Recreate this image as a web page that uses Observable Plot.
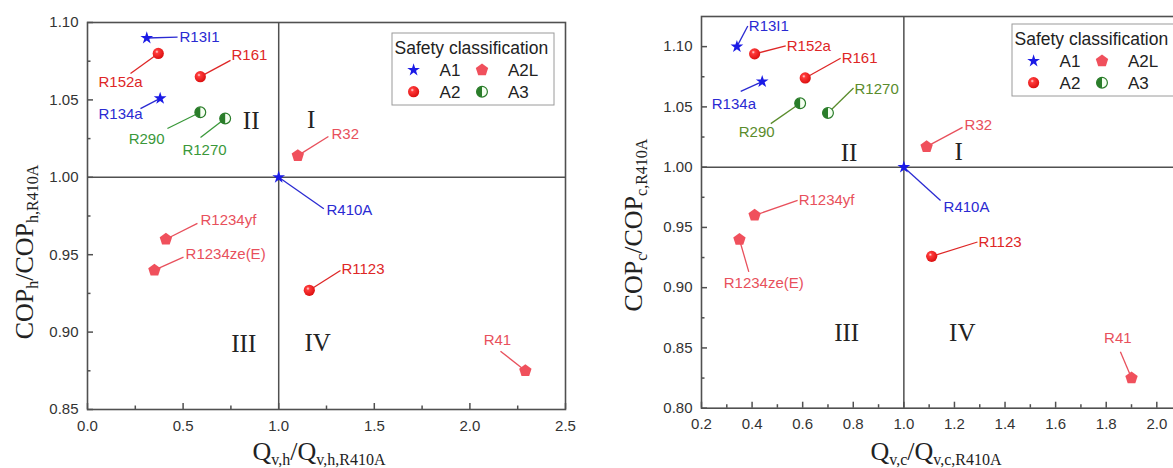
<!DOCTYPE html>
<html><head><meta charset="utf-8">
<script src="https://cdn.jsdelivr.net/npm/d3@7"></script>
<script src="https://cdn.jsdelivr.net/npm/@observablehq/plot@0.6"></script>
<style>
html,body{margin:0;padding:0;background:#fff;}
#wrap{position:relative;width:1173px;height:468px;overflow:hidden;background:#fff;}
#wrap svg{position:absolute;top:0;}
</style></head><body><div id="wrap"></div>
<script>
// ---------------- data ----------------
const refrigerants = ["R13I1","R152a","R161","R134a","R290","R1270","R410A","R32","R1234yf","R1234ze(E)","R1123","R41"];
const safetyClass  = ["A1","A2","A2","A1","A3","A3","A1","A2L","A2L","A2L","A2","A2L"];
// heating
const heatQ   = [0.31, 0.37, 0.59, 0.38, 0.59, 0.72, 1.00, 1.10, 0.41, 0.35, 1.16, 2.29];
const heatCOP = [1.090,1.080,1.065,1.051,1.042,1.038,1.000,1.014,0.960,0.940,0.927,0.875];
// cooling
const coolQ   = [0.34, 0.41, 0.61, 0.44, 0.59, 0.70, 1.00, 1.09, 0.41, 0.35, 1.11, 1.90];
const coolCOP = [1.100,1.094,1.074,1.071,1.053,1.045,1.000,1.017,0.960,0.940,0.926,0.825];

// tick values
const heatXTicks = [0.0,0.5,1.0,1.5,2.0,2.5];
const heatXMinor = [0.25,0.75,1.25,1.75,2.25];
const heatYTicks = [0.85,0.90,0.95,1.00,1.05,1.10];
const heatYMinor = [0.875,0.925,0.975,1.025,1.075];
const coolXTicks = [0.2,0.4,0.6,0.8,1.0,1.2,1.4,1.6,1.8,2.0];
const coolXMinor = [0.3,0.5,0.7,0.9,1.1,1.3,1.5,1.7,1.9];
const coolYTicks = [0.80,0.85,0.90,0.95,1.00,1.05,1.10];
const coolYMinor = [0.825,0.875,0.925,0.975,1.025,1.075];

const quadrantNames = ["I","II","III","IV"];
const legendOrder = ["A1","A2L","A2","A3"];

// annotation placement (data units)
const heatLeaderEnd = [[0.471,1.0905],[0.225,1.067],[0.748,1.0755],[0.277,1.0444],[0.418,1.0315],[0.591,1.0257],[1.236,0.9797],[1.260,1.0264],[0.575,0.9702],[0.502,0.9484],[1.323,0.9398],[2.160,0.8877]];
const heatLabelAt   = [[0.481,1.0905],[0.173,1.0612],[0.753,1.0791],[0.173,1.041],[0.309,1.0249],[0.612,1.0173],[1.25,0.979],[1.276,1.0277],[0.591,0.9721],[0.513,0.9501],[1.328,0.9409],[2.144,0.895]];
const heatAnchor    = ["start","middle","start","middle","middle","middle","start","start","start","start","start","middle"];
const heatQuadAt    = [[1.170,1.0367],[0.856,1.0362],[0.817,0.8924],[1.204,0.8928]];

const coolLeaderEnd = [[0.383,1.1171],[0.533,1.1006],[0.750,1.0904],[0.355,1.0628],[0.474,1.0361],[0.801,1.0656],[1.145,0.9724],[1.232,1.033],[0.580,0.9724],[0.387,0.9131],[1.291,0.9379],[1.856,0.8469]];
const coolLabelAt   = [[0.387,1.1171],[0.537,1.1006],[0.754,1.0907],[0.328,1.0524],[0.418,1.0294],[0.805,1.0648],[1.157,0.9668],[1.240,1.035],[0.584,0.973],[0.446,0.9035],[1.295,0.9379],[1.846,0.858]];
const coolAnchor    = ["start","start","start","middle","middle","start","start","start","start","middle","start","middle"];
const coolQuadAt    = [[1.217,1.0129],[0.783,1.0115],[0.774,0.8621],[1.231,0.8626]];

// ---------------- styles ----------------
const SANS = "'Liberation Sans', Arial, Helvetica, sans-serif";
const SERIF = "'Liberation Serif', 'Times New Roman', Times, serif";
const AXIS = "#505050";
const symbolColor = {A1:"#1a1ae6", A2:"#e81c1c", A2L:"#f0505c", A3:"#2a7d2a"};

const pentagon = {draw(ctx, size){
  const r = Math.sqrt(size/Math.PI);
  for (let i=0;i<5;i++){const a=-Math.PI/2+i*2*Math.PI/5; const x=r*Math.cos(a), y=r*Math.sin(a); if(i) ctx.lineTo(x,y); else ctx.moveTo(x,y);}
  ctx.closePath();
}};
const leftHalf = {draw(ctx, size){
  const r = Math.sqrt(size/Math.PI);
  ctx.moveTo(0,-r); ctx.arc(0,0,r,-Math.PI/2,Math.PI/2,true); ctx.closePath();
}};

function richText(g, x, y, rotate, parts){
  const t = g.append("text")
    .attr("transform", `translate(${x},${y})` + (rotate ? ` rotate(${rotate})` : ""))
    .attr("text-anchor", "middle")
    .attr("font-family", SERIF).attr("fill", "#222").attr("font-size", 26);
  let cur = 0;
  for (const [s, sub] of parts){
    const shift = sub ? 5 : 0;
    t.append("tspan").attr("font-size", sub ? 16 : 26).attr("dy", shift - cur).text(s);
    cur = shift;
  }
}

function makePanel(cfg){
  const rows = refrigerants.map((name,i)=>({
    name, cls: safetyClass[i], x: cfg.q[i], y: cfg.cop[i],
    ex: cfg.leaderEnd[i][0], ey: cfg.leaderEnd[i][1],
    tx: cfg.labelAt[i][0], ty: cfg.labelAt[i][1], anchor: cfg.anchor[i]
  }));
  const quads = quadrantNames.map((q,i)=>({q, x: cfg.quadAt[i][0], y: cfg.quadAt[i][1]}));
  const W = cfg.width, H = 468;
  const pw = W - cfg.ml - cfg.mr, ph = H - cfg.mt - cfg.mb;
  const of = c => rows.filter(d => d.cls === c);
  const lc = cfg.labelColor;
  const svg = Plot.plot({
    width: W, height: H,
    marginLeft: cfg.ml, marginRight: cfg.mr, marginTop: cfg.mt, marginBottom: cfg.mb,
    style: {fontFamily: SANS, background: "transparent", color: "#333", overflow: "visible"},
    x: {domain: cfg.xDomain}, y: {domain: cfg.yDomain},
    marks: [
      Plot.ruleX([1], {stroke: AXIS, strokeWidth: 1.5}),
      Plot.ruleY([1], {stroke: AXIS, strokeWidth: 1.5}),
      Plot.tickX(cfg.xMajor, {x: d=>d, insetTop: ph-6, stroke: AXIS, strokeWidth: 1.5}),
      Plot.tickX(cfg.xMinor, {x: d=>d, insetTop: ph-3.5, stroke: AXIS, strokeWidth: 1.5}),
      Plot.tickY(cfg.yMajor, {y: d=>d, insetRight: pw-6, stroke: AXIS, strokeWidth: 1.5}),
      Plot.tickY(cfg.yMinor, {y: d=>d, insetRight: pw-3.5, stroke: AXIS, strokeWidth: 1.5}),
      Plot.frame({stroke: AXIS, strokeWidth: 1.6}),
      Plot.axisX(cfg.xMajor, {tickSize: 0, tickPadding: 10.5, tickFormat: d3.format(".1f"), fontSize: 15, label: null}),
      Plot.axisY(cfg.yMajor, {tickSize: 0, tickPadding: 9, tickFormat: d3.format(".2f"), fontSize: 15, label: null}),
      Plot.link(rows, {x1: "x", y1: "y", x2: "ex", y2: "ey", stroke: d => lc[d.cls], strokeWidth: 1.3}),
      Plot.dot(of("A1"), {x: "x", y: "y", symbol: "star", r: 4, fill: symbolColor.A1}),
      Plot.dot(of("A2L"), {x: "x", y: "y", symbol: pentagon, r: 6.5, fill: symbolColor.A2L}),
      Plot.dot(of("A2"), {x: "x", y: "y", r: 5.6, fill: `url(#${cfg.id}-ball)`}),
      Plot.dot(of("A3"), {x: "x", y: "y", r: 5.4, fill: "#f4fff0", stroke: symbolColor.A3, strokeWidth: 1.2}),
      Plot.dot(of("A3"), {x: "x", y: "y", symbol: leftHalf, r: 5.4, fill: symbolColor.A3}),
      ...["start","middle"].map(a => Plot.text(rows.filter(d => d.anchor === a), {
        x: "tx", y: "ty", text: "name", textAnchor: a, lineAnchor: "middle",
        fill: d => lc[d.cls], fontSize: 15, fontFamily: SANS})),
      Plot.text(quads, {x: "x", y: "y", text: "q", fontSize: 25, fontFamily: SERIF, fill: "#222", lineAnchor: "middle"})
    ]
  });
  const s = d3.select(svg);
  const defs = s.insert("defs", ":first-child");
  const grad = defs.append("radialGradient").attr("id", `${cfg.id}-ball`).attr("cx","38%").attr("cy","35%").attr("r","70%");
  grad.append("stop").attr("offset","0%").attr("stop-color","#ffe4e4");
  grad.append("stop").attr("offset","22%").attr("stop-color","#ff3a3a");
  grad.append("stop").attr("offset","100%").attr("stop-color","#d80c0c");

  // axis titles
  richText(s, cfg.yTitle.x, cfg.yTitle.y, -90, cfg.yTitle.parts);
  richText(s, cfg.xTitle.x, cfg.xTitle.y, 0, cfg.xTitle.parts);

  // legend
  const L = s.append("g").attr("transform", `translate(${cfg.legend.x},${cfg.legend.y})`).attr("text-anchor", "start");
  L.append("rect").attr("width", 162).attr("height", 72).attr("fill", "#fff").attr("stroke", "#9a9a9a").attr("stroke-width", 1);
  L.append("text").attr("x", 2.5).attr("y", 14.5).attr("dy", "0.35em").attr("text-anchor", "start")
    .attr("font-family", SANS).attr("font-size", 17.5).attr("fill", "#222").text("Safety classification");
  const slots = [[21.6, 37],[90, 37],[21.6, 58.7],[90, 58.7]];
  legendOrder.forEach((c, i) => {
    const [sx, sy] = slots[i];
    const g = L.append("g").attr("transform", `translate(${sx},${sy})`);
    if (c === "A1") g.append("path").attr("d", d3.symbol(d3.symbolStar, 4*4*Math.PI)()).attr("fill", symbolColor.A1);
    if (c === "A2L") g.append("path").attr("d", d3.symbol(pentagon, 6.5*6.5*Math.PI)()).attr("fill", symbolColor.A2L);
    if (c === "A2") g.append("circle").attr("r", 5.6).attr("fill", `url(#${cfg.id}-ball)`);
    if (c === "A3") {
      g.append("circle").attr("r", 5.4).attr("fill", "#f4fff0").attr("stroke", symbolColor.A3).attr("stroke-width", 1.2);
      g.append("path").attr("d", d3.symbol(leftHalf, 5.4*5.4*Math.PI)()).attr("fill", symbolColor.A3);
    }
    L.append("text").attr("x", sx + 26).attr("y", sy).attr("dy", "0.35em").attr("text-anchor", "start")
      .attr("font-family", SANS).attr("font-size", 17).attr("fill", "#222").text(c);
  });
  return svg;
}

const wrap = document.getElementById("wrap");

const heatSvg = makePanel({
  id: "heat", width: 590, ml: 87, mr: 25, mt: 22, mb: 59,
  xDomain: [0, 2.5], yDomain: [0.85, 1.10],
  xMajor: heatXTicks, xMinor: heatXMinor, yMajor: heatYTicks, yMinor: heatYMinor,
  q: heatQ, cop: heatCOP, leaderEnd: heatLeaderEnd, labelAt: heatLabelAt, anchor: heatAnchor, quadAt: heatQuadAt,
  labelColor: {A1:"#2a2ad2", A2:"#de2626", A2L:"#e8505c", A3:"#3a983a"},
  yTitle: {x: 33, y: 252, parts: [["COP",0],["h",1],["/COP",0],["h,R410A",1]]},
  xTitle: {x: 319, y: 460, parts: [["Q",0],["v,h",1],["/Q",0],["v,h,R410A",1]]},
  legend: {x: 392, y: 33}
});
heatSvg.style.left = "0px";
wrap.appendChild(heatSvg);

const coolSvg = makePanel({
  id: "cool", width: 620, ml: 101, mr: 38.4, mt: 16, mb: 60.3,
  xDomain: [0.2, 2.1], yDomain: [0.80, 1.125],
  xMajor: coolXTicks, xMinor: coolXMinor, yMajor: coolYTicks, yMinor: coolYMinor,
  q: coolQ, cop: coolCOP, leaderEnd: coolLeaderEnd, labelAt: coolLabelAt, anchor: coolAnchor, quadAt: coolQuadAt,
  labelColor: {A1:"#2a2ad2", A2:"#de2626", A2L:"#e8505c", A3:"#5a8c2c"},
  yTitle: {x: 42, y: 225, parts: [["COP",0],["c",1],["/COP",0],["c,R410A",1]]},
  xTitle: {x: 336, y: 460, parts: [["Q",0],["v,c",1],["/Q",0],["v,c,R410A",1]]},
  legend: {x: 412, y: 24}
});
coolSvg.style.left = "600px";
wrap.appendChild(coolSvg);
</script>
</body></html>
